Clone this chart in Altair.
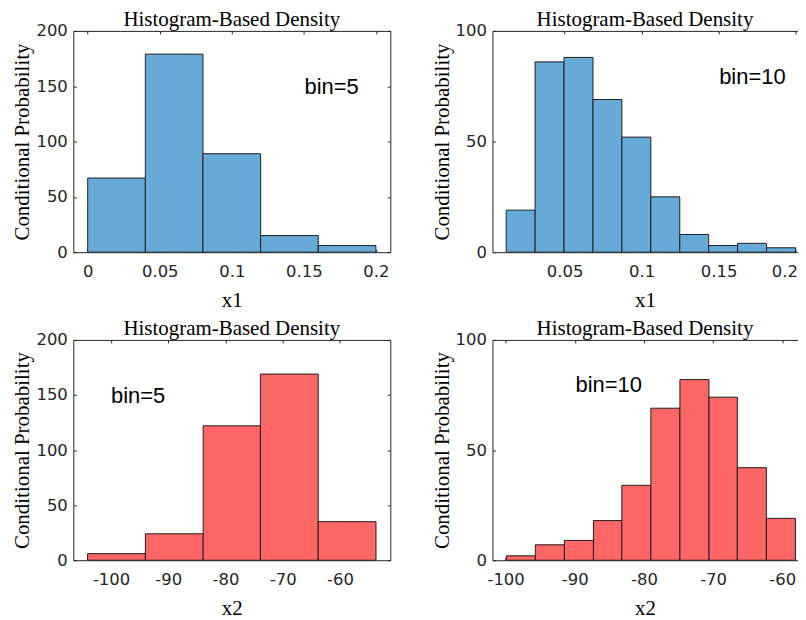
import altair as alt
import pandas as pd

# ---- data ----
x1_bin5_edges = [0.0, 0.04, 0.08, 0.12, 0.16, 0.20]
x1_bin5_counts = [67, 179, 89, 15, 6]

x1_bin10_edges = [0.012, 0.0308, 0.0496, 0.0684, 0.0872, 0.1060, 0.1248, 0.1436, 0.1624, 0.1812, 0.2000]
x1_bin10_counts = [19, 86, 88, 69, 52, 25, 8, 3, 4, 2]

x2_bin5_edges = [-104.1, -94.0, -83.9, -73.9, -63.8, -53.7]
x2_bin5_counts = [6, 24, 122, 169, 35]

x2_bin10_edges = [-99.9, -95.7, -91.5, -87.3, -83.2, -79.0, -74.8, -70.6, -66.5, -62.3, -58.1]
x2_bin10_counts = [2, 7, 9, 18, 34, 69, 82, 74, 42, 19]

x1_ticks_a = [0, 0.05, 0.1, 0.15, 0.2]
x1_ticks_b = [0.05, 0.1, 0.15, 0.2]
x2_ticks = [-100, -90, -80, -70, -60]
y_ticks_200 = [0, 50, 100, 150, 200]
y_ticks_100 = [0, 50, 100]

panel_title = "Histogram-Based Density"
y_title = "Conditional Probability"
x_titles = ["x1", "x1", "x2", "x2"]
bin_labels = ["bin=5", "bin=10", "bin=5", "bin=10"]

BLUE = "#66AAD8"
RED = "#FF6666"
EDGE = "#1f1f1f"
AXC = "#262626"
SERIF = "Liberation Serif"
SANS = "DejaVu Sans"
WL, WR = 318, 306
TK = 3

AX_STYLE = dict(domainColor=AXC, tickColor=AXC, labelColor=AXC, labelFont=SANS,
                labelFontSize=16.5, titleFont=SERIF, titleFontSize=21,
                titleFontWeight="normal", titleColor="#000000", domainWidth=1,
                tickWidth=1, grid=False)


def panel(edges, counts, color, xdom, ydom, xticks, yticks, xtitle, label, lx, ly,
          w, h, right_side):
    df = pd.DataFrame({"lo": edges[:-1], "hi": edges[1:], "n": counts})
    xs = alt.Scale(domain=xdom, nice=False, zero=False)
    ys = alt.Scale(domain=ydom, nice=False, zero=False)
    base = alt.Chart(df)
    lab = "datum.value + ''"

    bars = base.mark_rect(fill=color, stroke=EDGE, strokeWidth=1).encode(
        x=alt.X("lo:Q", scale=xs, title=xtitle,
                axis=alt.Axis(orient="bottom", values=xticks, labelExpr=lab, ticks=False,
                              tickSize=0, domain=True, labelPadding=11, labelFlush=10,
                              labelFlushOffset=2, titlePadding=10, **AX_STYLE)),
        x2="hi:Q",
        y=alt.Y("n:Q", scale=ys, title=y_title,
                axis=alt.Axis(orient="left", values=yticks, labelExpr=lab, ticks=False,
                              tickSize=0, domain=True, labelPadding=6,
                              titlePadding=3, **AX_STYLE)),
        y2=alt.datum(0),
    )
    ticks_in = base.mark_rect(opacity=0).encode(
        x=alt.X("lo:Q", scale=xs, title=None,
                axis=alt.Axis(orient="bottom", offset=-TK, tickSize=TK, values=xticks,
                              labels=False, domain=False, **AX_STYLE)),
        x2="hi:Q",
        y=alt.Y("n:Q", scale=ys, title=None,
                axis=alt.Axis(orient="left", offset=-TK, tickSize=TK, values=yticks,
                              labels=False, domain=False, **AX_STYLE)),
        y2=alt.datum(0),
    )
    top_ticks = dict(
        x=alt.X("lo:Q", scale=xs, title=None,
                axis=alt.Axis(orient="top", offset=-TK, tickSize=TK, values=xticks,
                              labels=False, domain=False, **AX_STYLE)),
        x2="hi:Q",
        y2=alt.datum(0),
    )
    top_frame = dict(
        x=alt.X("lo:Q", scale=xs, title=None,
                axis=alt.Axis(orient="top", ticks=False, tickSize=0, labels=False,
                              domain=True, **AX_STYLE)),
        x2="hi:Q",
        y2=alt.datum(0),
    )
    if right_side:
        top_ticks["y"] = alt.Y("n:Q", scale=ys, axis=None)
        top_frame["y"] = alt.Y("n:Q", scale=ys, axis=None)
    else:
        top_ticks["y"] = alt.Y("n:Q", scale=ys, title=None,
                               axis=alt.Axis(orient="right", offset=-TK, tickSize=TK,
                                             values=yticks, labels=False, domain=False,
                                             **AX_STYLE))
        top_frame["y"] = alt.Y("n:Q", scale=ys, title=None,
                               axis=alt.Axis(orient="right", ticks=False, tickSize=0,
                                             labels=False, domain=True, **AX_STYLE))
    ticks_out = base.mark_rect(opacity=0).encode(**top_ticks)
    frame = base.mark_rect(opacity=0).encode(**top_frame)
    txt = alt.Chart(pd.DataFrame({"t": [label]})).mark_text(
        align="left", baseline="alphabetic", font="Liberation Sans", fontSize=22,
        color="#000000"
    ).encode(
        x=alt.X(datum=lx, scale=xs, axis=None),
        y=alt.Y(datum=ly, scale=ys, axis=None),
        text="t:N",
    )
    return alt.layer(bars, ticks_in, ticks_out, frame, txt).resolve_axis(
        x="independent", y="independent"
    ).properties(
        width=w, height=h,
        title=alt.TitleParams(panel_title, font=SERIF, fontSize=21,
                              fontWeight="normal", color="#000000", offset=-7.5),
    )


tl = panel(x1_bin5_edges, x1_bin5_counts, BLUE, [-0.01, 0.21], [0, 200],
           x1_ticks_a, y_ticks_200, x_titles[0], bin_labels[0], 0.1505, 143,
           WL, 222, False)
tr = panel(x1_bin10_edges, x1_bin10_counts, BLUE, [0.0031, 0.2013], [0, 100],
           x1_ticks_b, y_ticks_100, x_titles[1], bin_labels[1], 0.1504, 76,
           WR, 222, True)
bl = panel(x2_bin5_edges, x2_bin5_counts, RED, [-106.6, -51.2], [0, 200],
           x2_ticks, y_ticks_200, x_titles[2], bin_labels[2], -100, 142.6,
           WL, 221, False)
br = panel(x2_bin10_edges, x2_bin10_counts, RED, [-101.9, -57.8], [0, 100],
           x2_ticks, y_ticks_100, x_titles[3], bin_labels[3], -89.9, 76.2,
           WR, 221, True)

chart = alt.vconcat(
    alt.hconcat(tl, tr, spacing=39.5),
    alt.hconcat(bl, br, spacing=39.5),
    spacing=7,
).properties(
    padding={"left": 3.5, "top": 0, "right": 0, "bottom": 0},
    background="white",
).configure_view(
    stroke=None
)

chart.save("out.html", embed_options={"renderer": "svg", "actions": False})
